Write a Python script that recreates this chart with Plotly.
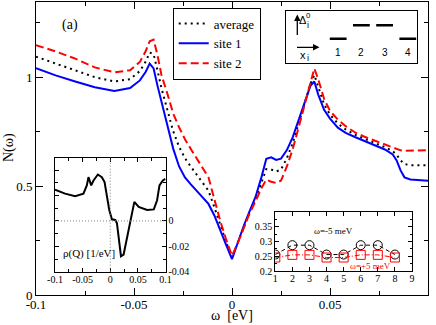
import plotly.graph_objects as go

# ---------------- data ----------------
omega = [-0.1, -0.09, -0.08, -0.07, -0.06, -0.052, -0.047, -0.044, -0.042, -0.040,
         -0.038, -0.036, -0.033, -0.030, -0.027, -0.024, -0.021, -0.018, -0.015, -0.012,
         -0.009, -0.006, -0.003, 0.0, 0.003, 0.006, 0.009, 0.012, 0.015, 0.0175,
         0.020, 0.0225, 0.025, 0.028, 0.031, 0.034, 0.037, 0.040, 0.042, 0.044,
         0.047, 0.050, 0.054, 0.058, 0.063, 0.068, 0.073, 0.078, 0.082, 0.084,
         0.086, 0.088, 0.091, 0.095, 0.1]

n_site1 = [1.041, 1.008, 0.980, 0.954, 0.937, 0.950, 0.985, 1.025, 1.062, 1.040,
           0.960, 0.890, 0.775, 0.672, 0.590, 0.540, 0.508, 0.478, 0.452, 0.418,
           0.365, 0.295, 0.230, 0.165, 0.245, 0.318, 0.385, 0.450, 0.540, 0.625,
           0.632, 0.620, 0.626, 0.665, 0.725, 0.800, 0.875, 0.960, 0.980, 0.920,
           0.850, 0.810, 0.768, 0.744, 0.724, 0.706, 0.688, 0.668, 0.645, 0.618,
           0.572, 0.540, 0.530, 0.526, 0.524]

n_site2 = [1.147, 1.118, 1.085, 1.045, 1.022, 1.032, 1.070, 1.120, 1.165, 1.172,
           1.100, 1.010, 0.925, 0.833, 0.770, 0.715, 0.670, 0.625, 0.583, 0.540,
           0.440, 0.340, 0.255, 0.180, 0.240, 0.310, 0.375, 0.430, 0.490, 0.530,
           0.520, 0.514, 0.525, 0.590, 0.670, 0.770, 0.870, 0.975, 1.040, 0.990,
           0.900, 0.845, 0.805, 0.775, 0.745, 0.725, 0.708, 0.690, 0.675, 0.669,
           0.664, 0.662, 0.662, 0.664, 0.665]

n_average = [1.094, 1.063, 1.033, 1.000, 0.980, 0.991, 1.028, 1.072, 1.113, 1.106,
             1.030, 0.950, 0.850, 0.752, 0.680, 0.628, 0.589, 0.552, 0.518, 0.479,
             0.403, 0.318, 0.243, 0.172, 0.243, 0.314, 0.380, 0.440, 0.515, 0.578,
             0.576, 0.567, 0.576, 0.628, 0.698, 0.785, 0.873, 0.968, 1.010, 0.955,
             0.875, 0.828, 0.787, 0.760, 0.735, 0.716, 0.698, 0.679, 0.660, 0.644,
             0.618, 0.601, 0.596, 0.595, 0.595]

# inset: rho(Q)
omega_rho = [-0.1, -0.0818, -0.0636, -0.0485, -0.0424, -0.0394, -0.0345, -0.0303, -0.0224,
             -0.0152, -0.0103, -0.006, -0.0018, 0.003, 0.0091, 0.0121, 0.0164, 0.0194,
             0.0242, 0.0285, 0.0333, 0.0382, 0.0436, 0.0515, 0.0667, 0.0788, 0.0848,
             0.0891, 0.0952, 0.1]
rho_q = [0.0247, 0.0215, 0.0195, 0.0215, 0.0280, 0.0345, 0.0280, 0.0319, 0.0366,
         0.0345, 0.0306, 0.0189, 0.0086, 0.0013, 0.0008, -0.0018, -0.0148, -0.0278,
         -0.0265, -0.0174, -0.0044, 0.0047, 0.0150, 0.0111, 0.0086, 0.0091, 0.0163,
         0.0280, 0.0319, 0.0332]

# inset: site-resolved values
site_index = [1, 2, 3, 4, 5, 6, 7, 8]
n_minus5 = [0.256, 0.288, 0.288, 0.256, 0.256, 0.288, 0.288, 0.256]
n_plus5 = [0.246, 0.255, 0.255, 0.246, 0.246, 0.255, 0.255, 0.246]

# schematic: gap profile
sites4 = [1, 2, 3, 4]
delta0 = [0, 1, 1, 0]

# tick labels
main_xticks = [-0.1, -0.05, 0, 0.05, 0.1]
main_xtext = ["-0.1", "-0.05", "0", "0.05", "0.1"]
main_yticks = [0, 0.5, 1]
main_ytext = ["0", "0.5", "1"]
rho_yticks = [-0.04, -0.02, 0, 0.02, 0.04]
rho_ytext = ["-0.04", "-0.02", "0", "", ""]
site_yticks = [0.2, 0.25, 0.3, 0.35]
site_ytext = ["0.2", "0.25", "0.3", "0.35"]

# ---------------- layout helpers ----------------
W, H = 436, 325
def fx(p):
    return p / W
def fy(p):
    return 1 - p / H

SERIF = "Liberation Serif"
SANS = "Liberation Sans"

fig = go.Figure()

fig.add_trace(go.Scatter(x=omega, y=n_average, name="average", mode="lines",
                         line=dict(color="black", width=2, dash="2px,4px"),
                         xaxis="x", yaxis="y"))
fig.add_trace(go.Scatter(x=omega, y=n_site1, name="site 1", mode="lines",
                         line=dict(color="#0000ff", width=2),
                         xaxis="x", yaxis="y"))
fig.add_trace(go.Scatter(x=omega, y=n_site2, name="site 2", mode="lines",
                         line=dict(color="#ff0000", width=2, dash="8px,4px"),
                         xaxis="x", yaxis="y"))

# inset 1
fig.add_trace(go.Scatter(x=omega_rho, y=rho_q, mode="lines", showlegend=False,
                         line=dict(color="black", width=2),
                         xaxis="x2", yaxis="y2"))

# inset 2
fig.add_trace(go.Scatter(x=site_index, y=n_minus5, mode="lines+markers", showlegend=False,
                         line=dict(color="black", width=1, dash="4px,3px"),
                         marker=dict(symbol="circle-open", size=9, color="black", line=dict(width=1)),
                         xaxis="x3", yaxis="y3"))
fig.add_trace(go.Scatter(x=site_index, y=n_plus5, mode="lines+markers", showlegend=False,
                         line=dict(color="#ff0000", width=1, dash="5px,2px,1px,2px"),
                         marker=dict(symbol="square-open", size=9, color="#ff0000", line=dict(width=1)),
                         xaxis="x3", yaxis="y3"))

# schematic
fig.add_trace(go.Scatter(x=sites4, y=delta0, mode="markers", showlegend=False,
                         marker=dict(symbol="line-ew", size=12, color="black",
                                     line=dict(width=2.5, color="black")),
                         xaxis="x4", yaxis="y4"))

axis_common = dict(showline=True, linecolor="black", linewidth=1, mirror="allticks",
                   ticks="inside", tickcolor="black", showgrid=False, zeroline=False,
                   automargin=False)

fig.update_layout(
    width=W, height=H,
    margin=dict(l=0, r=0, t=0, b=0, autoexpand=False),
    paper_bgcolor="white", plot_bgcolor="white",
    font=dict(family=SERIF, size=13, color="black"),
    xaxis=dict(domain=[fx(36), fx(428)], range=[-0.1, 0.1], anchor="y",
               tickvals=main_xticks, ticktext=main_xtext, ticklen=7, ticklabelstandoff=-3,
               minor=dict(ticks="inside", ticklen=4, dtick=0.025, tickcolor="black", showgrid=False),
               tickfont=dict(size=13, family=SERIF),
               **axis_common),
    yaxis=dict(domain=[fy(295), fy(2)], range=[0, 1.345], anchor="x",
               tickvals=main_yticks, ticktext=main_ytext, ticklen=7,
               minor=dict(ticks="inside", ticklen=4, dtick=0.25, tickcolor="black", showgrid=False),
               tickfont=dict(size=13, family=SERIF),
               **axis_common),
    xaxis2=dict(domain=[fx(55), fx(165.5)], range=[-0.1, 0.1], anchor="y2",
                tickvals=main_xticks, ticktext=main_xtext, ticklen=4, ticklabelstandoff=-2,
                minor=dict(ticks="inside", ticklen=3, dtick=0.025, tickcolor="black", showgrid=False),
                tickfont=dict(size=10, family=SERIF), **axis_common),
    yaxis2=dict(domain=[fy(271.7), fy(157.5)], range=[-0.04, 0.05], anchor="x2", side="right",
                tickvals=rho_yticks, ticktext=rho_ytext, ticklen=4,
                minor=dict(ticks="inside", ticklen=3, dtick=0.01, tickcolor="black", showgrid=False),
                tickfont=dict(size=10, family=SERIF), **axis_common),
    xaxis3=dict(domain=[fx(275.3), fx(412)], range=[1, 9], anchor="y3", ticklabelstandoff=-2,
                dtick=1, ticklen=4, tickfont=dict(size=10, family=SERIF), **axis_common),
    yaxis3=dict(domain=[fy(271), fy(212.3)], range=[0.2, 0.4], anchor="x3",
                tickvals=site_yticks, ticktext=site_ytext, ticklen=4,
                minor=dict(ticks="inside", ticklen=2, dtick=0.025, tickcolor="black", showgrid=False),
                tickfont=dict(size=10, family=SERIF), **axis_common),
    xaxis4=dict(domain=[fx(285.7), fx(417.3)], range=[-1.263, 4.41], anchor="y4",
                showline=True, linecolor="black", linewidth=1, mirror=True, automargin=False,
                ticks="", showticklabels=False, showgrid=False, zeroline=False),
    yaxis4=dict(domain=[fy(62.5), fy(10.5)], range=[-1.74, 2.08], anchor="x4",
                showline=True, linecolor="black", linewidth=1, mirror=True, automargin=False,
                ticks="", showticklabels=False, showgrid=False, zeroline=False),
    legend=dict(x=fx(172.7), y=fy(7.5), xanchor="left", yanchor="top",
                bgcolor="white", bordercolor="black", borderwidth=1,
                font=dict(family=SERIF, size=13), tracegroupgap=0, itemwidth=30),
)

# zero reference lines in the rho(Q) inset
fig.add_shape(type="line", xref="x2 domain", yref="y2", x0=0, x1=1, y0=0, y1=0,
              line=dict(color="#808080", width=1, dash="1px,2px"))
fig.add_shape(type="line", xref="x2", yref="y2 domain", x0=0, x1=0, y0=0, y1=1,
              line=dict(color="#808080", width=1, dash="1px,2px"))

def note(text, x, y, xref="paper", yref="paper", size=13, family=SERIF, color="black",
         xanchor="center", yanchor="middle", **kw):
    return dict(text=text, x=x, y=y, xref=xref, yref=yref, showarrow=False,
                xanchor=xanchor, yanchor=yanchor,
                font=dict(family=family, size=size, color=color), **kw)

ann = []
# axis titles
ann.append(note("ω  [eV]", fx(232), fy(315), size=14))
ann.append(note("N(ω)", fx(9), fy(148), size=14, textangle=-90))
ann.append(note("(a)", -0.0827, 1.239, xref="x", yref="y", size=14))
ann.append(note("ρ(Q) [1/eV]", -0.089, -0.0254, xref="x2", yref="y2", size=11, xanchor="left"))
ann.append(note("ω=-5 meV", 4.41, 0.336, xref="x3", yref="y3", size=9))
ann.append(note("ω=+5 meV", 6.59, 0.217, xref="x3", yref="y3", size=9, color="#ff0000"))
for s in sites4:
    ann.append(note(str(s), s, -1.03, xref="x4", yref="y4", size=10, family=SANS))
# axis arrows of the schematic
ann.append(dict(text="", x=fx(297.3), y=fy(14.5), xref="paper", yref="paper",
                showarrow=True, ax=0, ay=22, arrowhead=2, arrowsize=1, arrowwidth=1.3,
                arrowcolor="black"))
ann.append(dict(text="", x=fx(319.5), y=fy(47.3), xref="paper", yref="paper",
                showarrow=True, ax=-24, ay=0, arrowhead=2, arrowsize=1, arrowwidth=1.3,
                arrowcolor="black"))
ann.append(note("Δ", fx(302.5), fy(20.5), size=11, family=SANS))
ann.append(note("0", fx(308.5), fy(15.5), size=8, family=SANS))
ann.append(note("i", fx(308), fy(24.5), size=9, family=SANS))
ann.append(note("x", fx(302.5), fy(54.5), size=11, family=SANS))
ann.append(note("i", fx(308), fy(58), size=9, family=SANS))
fig.update_layout(annotations=ann)

fig.write_html("out.html", config={"displayModeBar": False},
               post_script="document.body.style.margin='0px';")
